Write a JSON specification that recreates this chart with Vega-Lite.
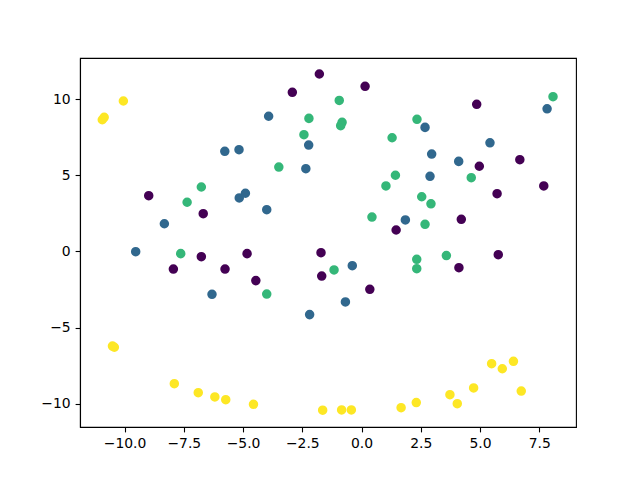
{
  "$schema": "https://vega.github.io/schema/vega-lite/v6.json",
  "autosize": {"type": "none"},
  "width": 496,
  "height": 369,
  "padding": {"left": 80, "top": 58, "right": 64, "bottom": 53},
  "background": "white",
  "config": {
    "view": {"stroke": "black", "strokeWidth": 1.1},
    "axis": {
      "grid": false,
      "domainColor": "black",
      "domainWidth": 1.1,
      "tickColor": "black",
      "tickWidth": 1.1,
      "tickSize": 4.9,
      "labelPadding": 4.9,
      "labelFont": "DejaVu Sans",
      "labelFontSize": 13.9,
      "labelColor": "black",
      "title": null
    }
  },
  "data": {
    "values": [
      {"x": -1.78, "y": 11.64, "c": 0},
      {"x": -2.92, "y": 10.44, "c": 0},
      {"x": -8.98, "y": 3.66, "c": 0},
      {"x": -6.68, "y": 2.48, "c": 0},
      {"x": -6.76, "y": -0.34, "c": 0},
      {"x": -7.94, "y": -1.15, "c": 0},
      {"x": -5.76, "y": -1.15, "c": 0},
      {"x": -4.83, "y": -0.14, "c": 0},
      {"x": -4.46, "y": -1.91, "c": 0},
      {"x": -1.71, "y": -0.08, "c": 0},
      {"x": -1.68, "y": -1.61, "c": 0},
      {"x": 0.15, "y": 10.83, "c": 0},
      {"x": 4.86, "y": 9.65, "c": 0},
      {"x": 4.97, "y": 5.59, "c": 0},
      {"x": 6.68, "y": 6.02, "c": 0},
      {"x": 7.69, "y": 4.30, "c": 0},
      {"x": 5.72, "y": 3.79, "c": 0},
      {"x": 4.21, "y": 2.11, "c": 0},
      {"x": 1.46, "y": 1.41, "c": 0},
      {"x": 0.35, "y": -2.48, "c": 0},
      {"x": 4.11, "y": -1.06, "c": 0},
      {"x": 5.77, "y": -0.21, "c": 0},
      {"x": -3.92, "y": 8.87, "c": 1},
      {"x": -2.23, "y": 6.98, "c": 1},
      {"x": -5.77, "y": 6.57, "c": 1},
      {"x": -5.17, "y": 6.68, "c": 1},
      {"x": -2.35, "y": 5.43, "c": 1},
      {"x": -5.16, "y": 3.51, "c": 1},
      {"x": -4.90, "y": 3.82, "c": 1},
      {"x": -4.00, "y": 2.74, "c": 1},
      {"x": -8.32, "y": 1.82, "c": 1},
      {"x": -9.53, "y": -0.01, "c": 1},
      {"x": -6.31, "y": -2.81, "c": 1},
      {"x": -2.19, "y": -4.14, "c": 1},
      {"x": 7.83, "y": 9.36, "c": 1},
      {"x": 2.68, "y": 8.14, "c": 1},
      {"x": 5.42, "y": 7.13, "c": 1},
      {"x": 2.96, "y": 6.39, "c": 1},
      {"x": 4.10, "y": 5.91, "c": 1},
      {"x": 2.89, "y": 4.93, "c": 1},
      {"x": 1.85, "y": 2.07, "c": 1},
      {"x": -0.39, "y": -0.93, "c": 1},
      {"x": -0.68, "y": -3.31, "c": 1},
      {"x": -2.22, "y": 8.73, "c": 2},
      {"x": -2.43, "y": 7.66, "c": 2},
      {"x": -3.49, "y": 5.54, "c": 2},
      {"x": -6.76, "y": 4.23, "c": 2},
      {"x": -7.36, "y": 3.23, "c": 2},
      {"x": -7.63, "y": -0.14, "c": 2},
      {"x": -4.00, "y": -2.79, "c": 2},
      {"x": -0.94, "y": 9.91, "c": 2},
      {"x": -0.82, "y": 8.47, "c": 2},
      {"x": -0.88, "y": 8.25, "c": 2},
      {"x": 8.08, "y": 10.15, "c": 2},
      {"x": 2.34, "y": 8.67, "c": 2},
      {"x": 1.29, "y": 7.46, "c": 2},
      {"x": 1.43, "y": 5.00, "c": 2},
      {"x": 4.63, "y": 4.84, "c": 2},
      {"x": 1.03, "y": 4.30, "c": 2},
      {"x": 2.54, "y": 3.59, "c": 2},
      {"x": 2.93, "y": 3.13, "c": 2},
      {"x": 0.44, "y": 2.26, "c": 2},
      {"x": 2.68, "y": 1.78, "c": 2},
      {"x": -1.16, "y": -1.21, "c": 2},
      {"x": 2.33, "y": -0.51, "c": 2},
      {"x": 2.33, "y": -1.13, "c": 2},
      {"x": 3.58, "y": -0.27, "c": 2},
      {"x": -10.94, "y": 8.64, "c": 3},
      {"x": -10.86, "y": 8.80, "c": 3},
      {"x": -10.05, "y": 9.87, "c": 3},
      {"x": -10.51, "y": -6.20, "c": 3},
      {"x": -10.43, "y": -6.28, "c": 3},
      {"x": -7.90, "y": -8.67, "c": 3},
      {"x": -6.89, "y": -9.26, "c": 3},
      {"x": -6.19, "y": -9.54, "c": 3},
      {"x": -5.73, "y": -9.72, "c": 3},
      {"x": -4.56, "y": -10.02, "c": 3},
      {"x": -1.64, "y": -10.41, "c": 3},
      {"x": -0.84, "y": -10.39, "c": 3},
      {"x": -0.43, "y": -10.39, "c": 3},
      {"x": 1.67, "y": -10.24, "c": 3},
      {"x": 2.31, "y": -9.91, "c": 3},
      {"x": 3.73, "y": -9.39, "c": 3},
      {"x": 4.04, "y": -9.98, "c": 3},
      {"x": 4.73, "y": -8.95, "c": 3},
      {"x": 5.49, "y": -7.36, "c": 3},
      {"x": 5.94, "y": -7.69, "c": 3},
      {"x": 6.41, "y": -7.20, "c": 3},
      {"x": 6.74, "y": -9.15, "c": 3}
    ]
  },
  "mark": {"type": "point", "shape": "circle", "filled": true, "opacity": 1, "size": 55, "strokeWidth": 2.1},
  "encoding": {
    "x": {
      "field": "x", "type": "quantitative",
      "scale": {"domain": [-11.88, 9.05], "nice": false, "zero": false},
      "axis": {"values": [-10, -7.5, -5, -2.5, 0, 2.5, 5, 7.5], "format": ".1f"}
    },
    "y": {
      "field": "y", "type": "quantitative",
      "scale": {"domain": [-11.51, 12.69], "nice": false, "zero": false},
      "axis": {"values": [-10, -5, 0, 5, 10], "format": "d"}
    },
    "color": {
      "field": "c", "type": "nominal",
      "scale": {"domain": [0, 1, 2, 3], "range": ["#440154", "#31688e", "#35b779", "#fde725"]},
      "legend": null
    },
    "stroke": {
      "field": "c", "type": "nominal",
      "scale": {"domain": [0, 1, 2, 3], "range": ["#440154", "#31688e", "#35b779", "#fde725"]},
      "legend": null
    }
  }
}
